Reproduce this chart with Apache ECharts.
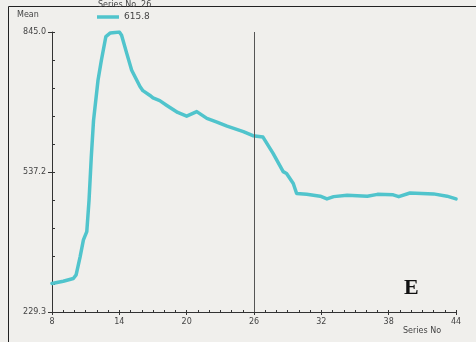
<!DOCTYPE html>
<html><head><meta charset="utf-8">
<script src="https://cdn.jsdelivr.net/npm/echarts@6/dist/echarts.min.js"></script>
<style>html,body{margin:0;padding:0;background:#f0efec;}#c{width:476px;height:342px;}</style>
</head><body><div id="c"></div>
<script>
const seriesNo = [8.0,9.0,9.9,10.15,10.5,10.8,11.1,11.3,11.5,11.7,12.1,12.4,12.8,13.2,14.0,14.2,14.66,15.1,15.84,16.1,16.7,17.0,17.6,18.2,19.2,20.0,20.9,21.8,22.7,23.6,25.05,25.9,26.0,26.8,27.7,28.6,28.9,29.5,29.8,30.7,31.9,32.5,33.1,34.3,36.1,37.0,38.4,38.9,39.9,42.0,43.2,44.0];
const meanValues = [292,297,303,311,350,388,406,475,570,650,739,783,835,843,845,838,798,761,725,716,706,700,694,684,668,660,670,655,647,638,626,617,616,614,578,538,534,512,490,488,484,478,483,486,484,488,487,483,491,489,484,478];
const yLabels = ['229.3','537.2','845.0'];
const xLabels = [8,14,20,26,32,38,44];
const cursorX = 26;
const cursorValue = '615.8';
const yMin = 229.3, yMax = 845.0;

const chart = echarts.init(document.getElementById('c'));
const font = 'DejaVu Sans';
const lblColor = '#444';
const axColor = '#333';
const grid = {left:52,right:20,top:32,bottom:30};
chart.setOption({
  backgroundColor:'#f0efec',
  animation:false,
  grid:grid,
  xAxis:[
    {type:'value',min:8,max:44,interval:1,
     axisLine:{show:true,lineStyle:{color:axColor,width:1}},
     axisTick:{show:true,inside:true,length:2,lineStyle:{color:axColor}},
     axisLabel:{show:true,fontSize:8,color:lblColor,fontFamily:font,margin:6,
       formatter:v=>xLabels.indexOf(v)>=0?String(v):''},
     splitLine:{show:false}},
    {type:'value',min:0,max:36,interval:6,position:'bottom',
     axisLine:{show:false},
     axisTick:{show:true,inside:false,length:3,lineStyle:{color:axColor}},
     axisLabel:{show:false},splitLine:{show:false}}
  ],
  yAxis:[
    {type:'value',min:yMin,max:yMax,
     axisLine:{show:false},axisTick:{show:false},axisLabel:{show:false},splitLine:{show:false}},
    {type:'value',min:0,max:10,interval:1,position:'left',
     axisLine:{show:true,lineStyle:{color:axColor,width:1}},
     axisTick:{show:true,inside:true,length:3,lineStyle:{color:axColor}},
     axisLabel:{show:true,fontSize:8,color:lblColor,fontFamily:font,margin:6,
       formatter:v=>v===0?yLabels[0]:(v===5?yLabels[1]:(v===10?yLabels[2]:''))},
     splitLine:{show:false}},
    {type:'value',min:0,max:10,interval:5,position:'left',
     axisLine:{show:false},
     axisTick:{show:true,inside:false,length:4,lineStyle:{color:axColor}},
     axisLabel:{show:false},splitLine:{show:false}}
  ],
  series:[
    {type:'line',xAxisIndex:0,yAxisIndex:0,
     data:seriesNo.map((x,i)=>[x,meanValues[i]]),
     showSymbol:false,smooth:false,
     lineStyle:{color:'#50c4cc',width:3.5,join:'round',cap:'round'},
     markLine:{silent:true,symbol:'none',label:{show:false},
       lineStyle:{color:'#555',width:1,type:'solid'},
       data:[{xAxis:cursorX}]},
     z:3}
  ],
  graphic:[
    {type:'line',shape:{x1:8.5,y1:6.5,x2:476,y2:6.5},style:{stroke:'#222',lineWidth:1}},
    {type:'line',shape:{x1:8.5,y1:6.5,x2:8.5,y2:342},style:{stroke:'#222',lineWidth:1}},
    {type:'text',left:17,top:11,style:{text:'Mean',fontSize:8,fill:lblColor,fontFamily:font}},
    {type:'text',left:98,top:1,style:{text:'Series No  '+cursorX,fontSize:8,fill:lblColor,fontFamily:font}},
    {type:'line',shape:{x1:97,y1:17,x2:119,y2:17},style:{stroke:'#50c4cc',lineWidth:3.5}},
    {type:'text',left:124,top:12,style:{text:cursorValue,fontSize:9,fill:lblColor,fontFamily:font}},
    {type:'text',left:403,top:327,style:{text:'Series No',fontSize:8,fill:lblColor,fontFamily:font}},
    {type:'text',left:404,top:277,style:{text:'E',fontSize:22,fontWeight:'bold',fill:'#111',fontFamily:'Liberation Serif'}}
  ]
});
</script></body></html>
